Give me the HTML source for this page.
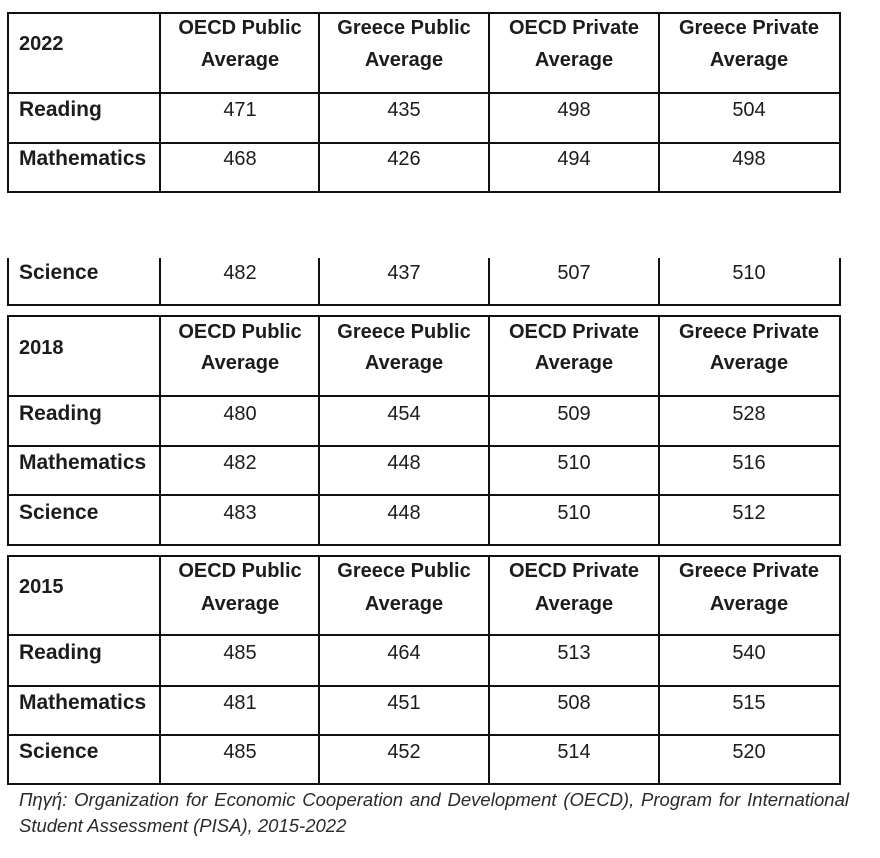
<!DOCTYPE html>
<html><head><meta charset="utf-8"><style>
html,body{margin:0;padding:0;background:#fff;}
body{width:880px;height:858px;position:relative;overflow:hidden;font-family:"Liberation Sans",sans-serif;color:#1c1c1c;}
.h{position:absolute;height:2px;background:#111;}
.v{position:absolute;width:2px;background:#111;}
.t{position:absolute;height:24px;line-height:24px;font-size:20px;white-space:nowrap;}
.b{font-weight:bold;}
.l{font-size:21px;}
.c{text-align:center;transform:translateX(-50%);}
.cap{position:absolute;left:19px;width:830px;font-style:italic;font-size:18.5px;color:#2a2a2a;text-align:justify;text-align-last:justify;height:24px;line-height:24px;white-space:nowrap;}
</style></head><body>

<!-- Table 1 lines -->
<div class="h" style="left:7px;width:834px;top:12px"></div>
<div class="h" style="left:7px;width:834px;top:92px"></div>
<div class="h" style="left:7px;width:834px;top:142px"></div>
<div class="h" style="left:7px;width:834px;top:191px"></div>
<div class="v" style="left:7px;top:12px;height:181px"></div>
<div class="v" style="left:159px;top:12px;height:181px"></div>
<div class="v" style="left:318px;top:12px;height:181px"></div>
<div class="v" style="left:488px;top:12px;height:181px"></div>
<div class="v" style="left:658px;top:12px;height:181px"></div>
<div class="v" style="left:839px;top:12px;height:181px"></div>

<!-- Science fragment -->
<div class="h" style="left:7px;width:834px;top:304px"></div>
<div class="v" style="left:7px;top:258px;height:48px"></div>
<div class="v" style="left:159px;top:258px;height:48px"></div>
<div class="v" style="left:318px;top:258px;height:48px"></div>
<div class="v" style="left:488px;top:258px;height:48px"></div>
<div class="v" style="left:658px;top:258px;height:48px"></div>
<div class="v" style="left:839px;top:258px;height:48px"></div>

<!-- Table 2 lines -->
<div class="h" style="left:7px;width:834px;top:315px"></div>
<div class="h" style="left:7px;width:834px;top:395px"></div>
<div class="h" style="left:7px;width:834px;top:445px"></div>
<div class="h" style="left:7px;width:834px;top:494px"></div>
<div class="h" style="left:7px;width:834px;top:544px"></div>
<div class="v" style="left:7px;top:315px;height:231px"></div>
<div class="v" style="left:159px;top:315px;height:231px"></div>
<div class="v" style="left:318px;top:315px;height:231px"></div>
<div class="v" style="left:488px;top:315px;height:231px"></div>
<div class="v" style="left:658px;top:315px;height:231px"></div>
<div class="v" style="left:839px;top:315px;height:231px"></div>

<!-- Table 3 lines -->
<div class="h" style="left:7px;width:834px;top:555px"></div>
<div class="h" style="left:7px;width:834px;top:634px"></div>
<div class="h" style="left:7px;width:834px;top:685px"></div>
<div class="h" style="left:7px;width:834px;top:734px"></div>
<div class="h" style="left:7px;width:834px;top:783px"></div>
<div class="v" style="left:7px;top:555px;height:230px"></div>
<div class="v" style="left:159px;top:555px;height:230px"></div>
<div class="v" style="left:318px;top:555px;height:230px"></div>
<div class="v" style="left:488px;top:555px;height:230px"></div>
<div class="v" style="left:658px;top:555px;height:230px"></div>
<div class="v" style="left:839px;top:555px;height:230px"></div>

<!-- Table 1 text -->
<div class="t b" style="left:19px;top:32px">2022</div>
<div class="t b c" style="left:240px;top:16px">OECD Public</div>
<div class="t b c" style="left:240px;top:48px">Average</div>
<div class="t b c" style="left:404px;top:16px">Greece Public</div>
<div class="t b c" style="left:404px;top:48px">Average</div>
<div class="t b c" style="left:574px;top:16px">OECD Private</div>
<div class="t b c" style="left:574px;top:48px">Average</div>
<div class="t b c" style="left:749px;top:16px">Greece Private</div>
<div class="t b c" style="left:749px;top:48px">Average</div>

<div class="t b l" style="left:19px;top:98px">Reading</div>
<div class="t c" style="left:240px;top:98px">471</div>
<div class="t c" style="left:404px;top:98px">435</div>
<div class="t c" style="left:574px;top:98px">498</div>
<div class="t c" style="left:749px;top:98px">504</div>

<div class="t b l" style="left:19px;top:147px">Mathematics</div>
<div class="t c" style="left:240px;top:147px">468</div>
<div class="t c" style="left:404px;top:147px">426</div>
<div class="t c" style="left:574px;top:147px">494</div>
<div class="t c" style="left:749px;top:147px">498</div>

<div class="t b l" style="left:19px;top:261px">Science</div>
<div class="t c" style="left:240px;top:261px">482</div>
<div class="t c" style="left:404px;top:261px">437</div>
<div class="t c" style="left:574px;top:261px">507</div>
<div class="t c" style="left:749px;top:261px">510</div>

<!-- Table 2 text -->
<div class="t b" style="left:19px;top:336px">2018</div>
<div class="t b c" style="left:240px;top:320px">OECD Public</div>
<div class="t b c" style="left:240px;top:351px">Average</div>
<div class="t b c" style="left:404px;top:320px">Greece Public</div>
<div class="t b c" style="left:404px;top:351px">Average</div>
<div class="t b c" style="left:574px;top:320px">OECD Private</div>
<div class="t b c" style="left:574px;top:351px">Average</div>
<div class="t b c" style="left:749px;top:320px">Greece Private</div>
<div class="t b c" style="left:749px;top:351px">Average</div>

<div class="t b l" style="left:19px;top:402px">Reading</div>
<div class="t c" style="left:240px;top:402px">480</div>
<div class="t c" style="left:404px;top:402px">454</div>
<div class="t c" style="left:574px;top:402px">509</div>
<div class="t c" style="left:749px;top:402px">528</div>

<div class="t b l" style="left:19px;top:451px">Mathematics</div>
<div class="t c" style="left:240px;top:451px">482</div>
<div class="t c" style="left:404px;top:451px">448</div>
<div class="t c" style="left:574px;top:451px">510</div>
<div class="t c" style="left:749px;top:451px">516</div>

<div class="t b l" style="left:19px;top:501px">Science</div>
<div class="t c" style="left:240px;top:501px">483</div>
<div class="t c" style="left:404px;top:501px">448</div>
<div class="t c" style="left:574px;top:501px">510</div>
<div class="t c" style="left:749px;top:501px">512</div>

<!-- Table 3 text -->
<div class="t b" style="left:19px;top:575px">2015</div>
<div class="t b c" style="left:240px;top:559px">OECD Public</div>
<div class="t b c" style="left:240px;top:592px">Average</div>
<div class="t b c" style="left:404px;top:559px">Greece Public</div>
<div class="t b c" style="left:404px;top:592px">Average</div>
<div class="t b c" style="left:574px;top:559px">OECD Private</div>
<div class="t b c" style="left:574px;top:592px">Average</div>
<div class="t b c" style="left:749px;top:559px">Greece Private</div>
<div class="t b c" style="left:749px;top:592px">Average</div>

<div class="t b l" style="left:19px;top:641px">Reading</div>
<div class="t c" style="left:240px;top:641px">485</div>
<div class="t c" style="left:404px;top:641px">464</div>
<div class="t c" style="left:574px;top:641px">513</div>
<div class="t c" style="left:749px;top:641px">540</div>

<div class="t b l" style="left:19px;top:691px">Mathematics</div>
<div class="t c" style="left:240px;top:691px">481</div>
<div class="t c" style="left:404px;top:691px">451</div>
<div class="t c" style="left:574px;top:691px">508</div>
<div class="t c" style="left:749px;top:691px">515</div>

<div class="t b l" style="left:19px;top:740px">Science</div>
<div class="t c" style="left:240px;top:740px">485</div>
<div class="t c" style="left:404px;top:740px">452</div>
<div class="t c" style="left:574px;top:740px">514</div>
<div class="t c" style="left:749px;top:740px">520</div>

<!-- Caption -->
<div class="cap" style="top:788px;font-family:'Liberation Sans','Noto Sans CJK SC',sans-serif;">Πηγή: Organization for Economic Cooperation and Development (OECD), Program for International</div>
<div class="cap" style="top:814px;text-align-last:left;width:auto;">Student Assessment (PISA), 2015-2022</div>

</body></html>
